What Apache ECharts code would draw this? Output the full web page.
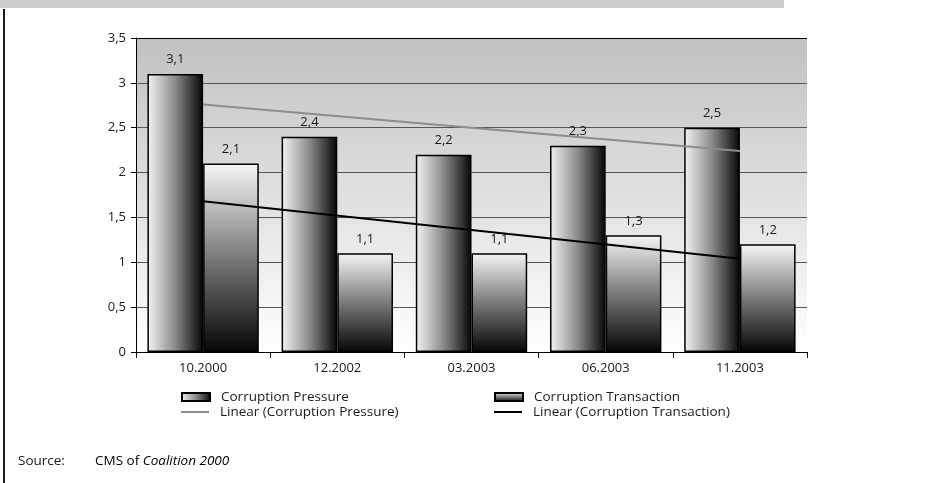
<!DOCTYPE html>
<html>
<head>
<meta charset="utf-8">
<style>
  html, body { margin: 0; padding: 0; background: #ffffff; }
  #chart { width: 946px; height: 483px; }
</style>
<script src="https://cdn.jsdelivr.net/npm/echarts@6/dist/echarts.min.js"></script>
</head>
<body>
<div id="chart"></div>
<script>
// Survey waves
const categories = ['10.2000', '12.2002', '03.2003', '06.2003', '11.2003'];
// Index values per wave
const pressureValues = [3.1, 2.4, 2.2, 2.3, 2.5];
const transactionValues = [2.1, 1.1, 1.1, 1.3, 1.2];
// Linear trend lines: start and end values, gaps joined
const pressureTrend = [2.76, null, null, null, 2.24];
const transactionTrend = [1.68, null, null, null, 1.04];
// Value axis
const yMin = 0, yMax = 3.5, yStep = 0.5;

const FONT = 'Open Sans';
const TEXT = '#1a1a1a';
const comma = v => String(v).replace('.', ',');

const pressureFill = {
  type: 'linear', x: 0, y: 0, x2: 1, y2: 0,
  colorStops: [
    { offset: 0, color: '#f4f4f4' },
    { offset: 0.5, color: '#8a8a8a' },
    { offset: 1, color: '#050505' }
  ]
};
const transactionFill = {
  type: 'linear', x: 0, y: 0, x2: 0, y2: 1,
  colorStops: [
    { offset: 0, color: '#f6f6f6' },
    { offset: 0.5, color: '#7a7a7a' },
    { offset: 1, color: '#050505' }
  ]
};

const chart = echarts.init(document.getElementById('chart'), null, { renderer: 'canvas' });

const labelStyle = {
  show: true, position: 'top', distance: 8,
  formatter: p => comma(p.value),
  color: TEXT, fontFamily: FONT, fontSize: 13
};

const legendBase = {
  orient: 'vertical', itemWidth: 28, itemHeight: 8, itemGap: 4,
  textStyle: { fontFamily: FONT, fontSize: 13.5, color: TEXT, padding: [0, 0, 0, 6] },
  padding: 0
};

chart.setOption({
  animation: false,
  backgroundColor: '#ffffff',
  textStyle: { fontFamily: FONT },
  grid: {
    left: 136, top: 38, right: 139, bottom: 131,
    show: true, borderWidth: 0,
    backgroundColor: {
      type: 'linear', x: 0, y: 0, x2: 0, y2: 1,
      colorStops: [
        { offset: 0, color: '#c1c1c1' },
        { offset: 1, color: '#ffffff' }
      ]
    }
  },
  legend: [
    Object.assign({}, legendBase, { left: 181, top: 390, data: [{ name: 'Corruption Pressure', icon: 'rect' }] }),
    Object.assign({}, legendBase, { left: 181, top: 405, itemHeight: 2, data: [{ name: 'Linear (Corruption Pressure)', icon: 'rect' }] }),
    Object.assign({}, legendBase, { left: 494, top: 390, data: [{ name: 'Corruption Transaction', icon: 'rect' }] }),
    Object.assign({}, legendBase, { left: 494, top: 405, itemHeight: 2, data: [{ name: 'Linear (Corruption Transaction)', icon: 'rect' }] })
  ],
  xAxis: {
    type: 'category',
    data: categories,
    axisLine: { lineStyle: { color: '#000', width: 1 } },
    axisTick: { show: true, alignWithLabel: false, length: 6, lineStyle: { color: '#000' } },
    axisLabel: { color: TEXT, fontFamily: FONT, fontSize: 13, margin: 10 },
    splitLine: { show: false }
  },
  yAxis: {
    type: 'value',
    min: yMin, max: yMax, interval: yStep,
    axisLine: { show: true, lineStyle: { color: '#000', width: 1 } },
    axisTick: { show: true, length: 5, lineStyle: { color: '#000' } },
    axisLabel: { color: TEXT, fontFamily: FONT, fontSize: 13, margin: 10, formatter: v => comma(v) },
    splitLine: {
      show: true,
      lineStyle: {
        color: ['#555', '#555', '#555', '#555', '#555', '#555', '#555', '#000'],
        width: 1.2
      }
    }
  },
  series: [
    {
      name: 'Corruption Pressure',
      type: 'bar',
      data: pressureValues,
      barGap: '0%',
      barCategoryGap: '17%',
      itemStyle: { color: pressureFill, borderColor: '#000', borderWidth: 1.5 },
      label: labelStyle,
      z: 2
    },
    {
      name: 'Corruption Transaction',
      type: 'bar',
      data: transactionValues,
      itemStyle: { color: transactionFill, borderColor: '#000', borderWidth: 1.5 },
      label: labelStyle,
      z: 2
    },
    {
      name: 'Linear (Corruption Pressure)',
      type: 'line',
      data: pressureTrend,
      connectNulls: true,
      symbol: 'none',
      color: '#8c8c8c',
      lineStyle: { color: '#8c8c8c', width: 2 },
      z: 5
    },
    {
      name: 'Linear (Corruption Transaction)',
      type: 'line',
      data: transactionTrend,
      connectNulls: true,
      symbol: 'none',
      color: '#000',
      lineStyle: { color: '#000', width: 2 },
      z: 5
    }
  ],
  graphic: [
    { type: 'rect', left: 0, top: 0, shape: { width: 784, height: 8 }, style: { fill: '#cccccc' }, silent: true },
    { type: 'rect', left: 3, top: 9, shape: { width: 2, height: 474 }, style: { fill: '#1a1a1a' }, silent: true },
    { type: 'text', left: 18, top: 454, style: { text: 'Source:', font: '13.5px "' + FONT + '"', fill: TEXT } },
    {
      type: 'text', left: 95, top: 454,
      style: {
        text: '{n|CMS of }{i|Coalition 2000}',
        rich: {
          n: { fontFamily: FONT, fontSize: 13.5, color: TEXT },
          i: { fontFamily: FONT, fontSize: 13.5, fontStyle: 'italic', color: TEXT }
        }
      }
    }
  ]
});
</script>
</body>
</html>
